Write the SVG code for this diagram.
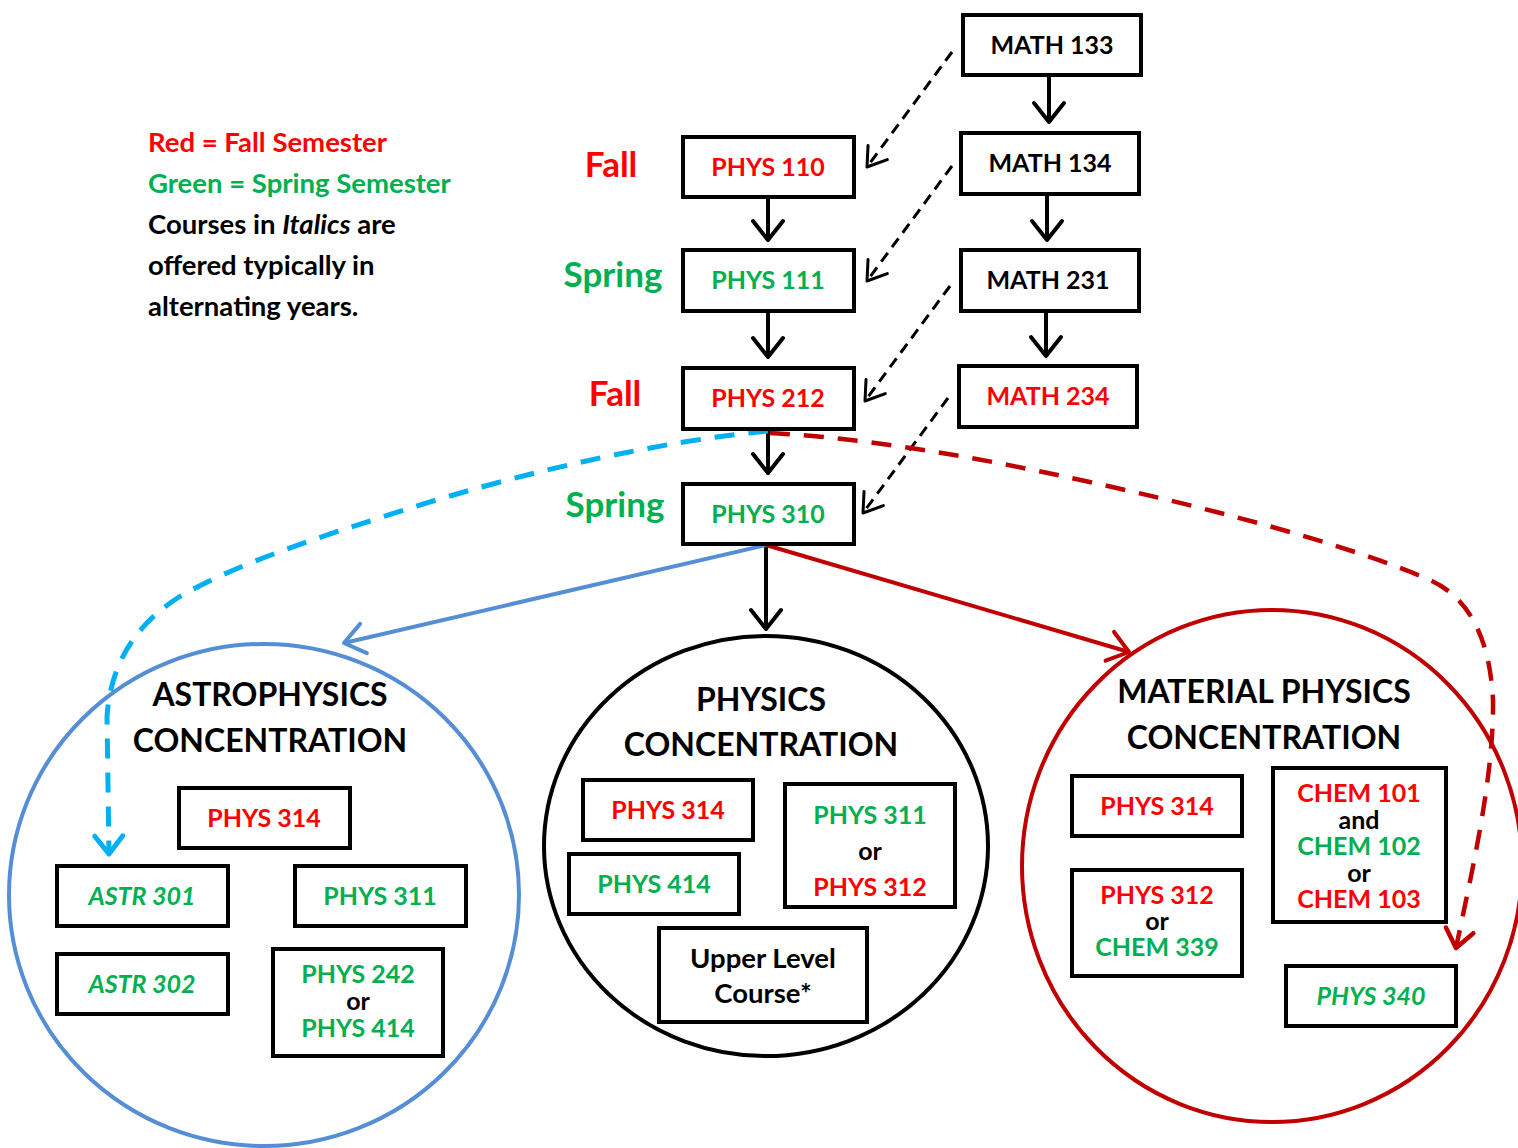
<svg xmlns="http://www.w3.org/2000/svg" width="1518" height="1148" viewBox="0 0 1518 1148">
<style>
text{font-family:Lato,"Liberation Sans",sans-serif;font-weight:bold;text-anchor:middle}
.box{fill:#fff;stroke:#000;stroke-width:4}
.t{font-size:25px}
.u{font-size:27.5px}
.big{font-size:32px}
.sem{font-size:35px}
.leg{font-size:27.5px;text-anchor:start}
.r{fill:#ff0000}
.g{fill:#00b050}
.k{fill:#000}
.i{font-style:italic}
.solid{fill:none;stroke-width:4}
.dk{fill:none;stroke:#000;stroke-width:3;stroke-dasharray:11 7}
</style>
<defs>
<marker id="ak" markerUnits="userSpaceOnUse" viewBox="-24 -18 28 36" refX="0" refY="0" markerWidth="28" markerHeight="36" orient="auto" overflow="visible"><path d="M-19,-15 L0,0 L-19,15" fill="none" stroke="#000" stroke-width="4" stroke-linecap="round" stroke-linejoin="round" stroke-dasharray="none"/></marker>
<marker id="akd" markerUnits="userSpaceOnUse" viewBox="-24 -18 28 36" refX="0" refY="0" markerWidth="28" markerHeight="36" orient="auto" overflow="visible"><path d="M-18,-12 L0,0 L-18,12" fill="none" stroke="#000" stroke-width="3" stroke-linecap="round" stroke-linejoin="round" stroke-dasharray="none"/></marker>
<marker id="ab" markerUnits="userSpaceOnUse" viewBox="-24 -18 28 36" refX="0" refY="0" markerWidth="28" markerHeight="36" orient="auto" overflow="visible"><path d="M-20,-15 L0,0 L-20,15" fill="none" stroke="#558ed5" stroke-width="4" stroke-linecap="round" stroke-linejoin="round"/></marker>
<marker id="ar" markerUnits="userSpaceOnUse" viewBox="-24 -18 28 36" refX="0" refY="0" markerWidth="28" markerHeight="36" orient="auto" overflow="visible"><path d="M-20,-15 L0,0 L-20,15" fill="none" stroke="#c00000" stroke-width="4" stroke-linecap="round" stroke-linejoin="round"/></marker>
<marker id="ac" markerUnits="userSpaceOnUse" viewBox="-24 -18 28 36" refX="0" refY="0" markerWidth="28" markerHeight="36" orient="auto" overflow="visible"><path d="M-18,-14 L0,0 L-18,14" fill="none" stroke="#00b0f0" stroke-width="5" stroke-linecap="round" stroke-linejoin="round" stroke-dasharray="none"/></marker>
<marker id="ard" markerUnits="userSpaceOnUse" viewBox="-24 -18 28 36" refX="0" refY="0" markerWidth="28" markerHeight="36" orient="auto" overflow="visible"><path d="M-18,-14 L0,0 L-18,14" fill="none" stroke="#c00000" stroke-width="4.5" stroke-linecap="round" stroke-linejoin="round" stroke-dasharray="none"/></marker>
</defs>
<rect width="1518" height="1148" fill="#fff"/>

<g id="legend">
<text class="leg r" x="148" y="152">Red = Fall Semester</text>
<text class="leg g" x="148" y="193">Green = Spring Semester</text>
<text class="leg k" x="148" y="234">Courses in <tspan class="i">Italics</tspan> are</text>
<text class="leg k" x="148" y="275">offered typically in</text>
<text class="leg k" x="148" y="316">alternating years.</text>
</g>

<g id="semesters">
<text class="sem r" x="611" y="177">Fall</text>
<text class="sem g" x="613" y="287">Spring</text>
<text class="sem r" x="615" y="406">Fall</text>
<text class="sem g" x="615" y="517">Spring</text>
</g>

<g id="circles">
<ellipse id="astro-circle" cx="264" cy="895" rx="255" ry="251" fill="none" stroke="#558ed5" stroke-width="4"/>
<ellipse id="physics-circle" cx="766" cy="846" rx="222" ry="210" fill="none" stroke="#000" stroke-width="4"/>
<ellipse id="material-circle" cx="1272" cy="866" rx="250" ry="256" fill="none" stroke="#c00000" stroke-width="4"/>
</g>

<g id="connectors">
<line x1="768" y1="198" x2="768" y2="240" class="solid" stroke="#000" marker-end="url(#ak)"/>
<line x1="768" y1="311" x2="768" y2="357" class="solid" stroke="#000" marker-end="url(#ak)"/>
<line x1="768" y1="429" x2="768" y2="473" class="solid" stroke="#000" marker-end="url(#ak)"/>
<line x1="766" y1="545" x2="766" y2="629" class="solid" stroke="#000" marker-end="url(#ak)"/>
<line x1="1049" y1="76" x2="1049" y2="122" class="solid" stroke="#000" marker-end="url(#ak)"/>
<line x1="1047" y1="195" x2="1047" y2="240" class="solid" stroke="#000" marker-end="url(#ak)"/>
<line x1="1046" y1="311" x2="1046" y2="356" class="solid" stroke="#000" marker-end="url(#ak)"/>
<line x1="952" y1="52" x2="867" y2="167" class="dk" marker-end="url(#akd)"/>
<line x1="952" y1="166" x2="867" y2="281" class="dk" marker-end="url(#akd)"/>
<line x1="950" y1="286" x2="865" y2="401" class="dk" marker-end="url(#akd)"/>
<line x1="948" y1="398" x2="863" y2="513" class="dk" marker-end="url(#akd)"/>
<line x1="766" y1="545" x2="344" y2="643" class="solid" stroke="#558ed5" marker-end="url(#ab)"/>
<line x1="766" y1="545" x2="1129" y2="652" class="solid" stroke="#c00000" marker-end="url(#ar)"/>
<path d="M768,431 C660,441 520,473 404,510 C320,537 240,562 179,597 C135,625 110,665 107,717 L109,854" fill="none" stroke="#00b0f0" stroke-width="5" stroke-dasharray="20 14" marker-end="url(#ac)"/>
<path d="M770,433 C900,440 1040,470 1160,498 C1260,522 1360,550 1430,580 C1470,598 1490,640 1493,700 C1494,780 1470,880 1456,948" fill="none" stroke="#c00000" stroke-width="4.5" stroke-dasharray="20 14" marker-end="url(#ard)"/>
</g>

<g id="math133"><rect class="box" x="963" y="15" width="178" height="60"/><text class="t k" x="1052" y="54">MATH 133</text></g>
<g id="math134"><rect class="box" x="961" y="133" width="178" height="61"/><text class="t k" x="1050" y="172">MATH 134</text></g>
<g id="math231"><rect class="box" x="961" y="250" width="178" height="61"/><text class="t k" x="1048" y="289">MATH 231</text></g>
<g id="math234"><rect class="box" x="959" y="366" width="178" height="61"/><text class="t r" x="1048" y="405">MATH 234</text></g>

<g id="phys110"><rect class="box" x="683" y="137" width="171" height="60"/><text class="t r" x="768" y="176">PHYS 110</text></g>
<g id="phys111"><rect class="box" x="683" y="250" width="171" height="61"/><text class="t g" x="768" y="289">PHYS 111</text></g>
<g id="phys212"><rect class="box" x="683" y="368" width="171" height="61"/><text class="t r" x="768" y="407">PHYS 212</text></g>
<g id="phys310"><rect class="box" x="683" y="484" width="171" height="60"/><text class="t g" x="768" y="523">PHYS 310</text></g>

<g id="astro-title"><text class="big k" x="270" y="706">ASTROPHYSICS</text><text class="big k" x="270" y="752">CONCENTRATION</text></g>
<g id="astro-phys314"><rect class="box" x="179" y="788" width="171" height="60"/><text class="t r" x="264" y="827">PHYS 314</text></g>
<g id="astr301"><rect class="box" x="57" y="866" width="171" height="60"/><text class="t g i" x="142" y="905">ASTR 301</text></g>
<g id="astro-phys311"><rect class="box" x="295" y="866" width="171" height="60"/><text class="t g" x="380" y="905">PHYS 311</text></g>
<g id="astr302"><rect class="box" x="57" y="954" width="171" height="60"/><text class="t g i" x="142" y="993">ASTR 302</text></g>
<g id="astro-phys242-414"><rect class="box" x="273" y="949" width="170" height="107"/><text class="t g" x="358" y="983">PHYS 242</text><text class="t k" x="358" y="1010">or</text><text class="t g" x="358" y="1037">PHYS 414</text></g>

<g id="physics-title"><text class="big k" x="761" y="711">PHYSICS</text><text class="big k" x="761" y="756">CONCENTRATION</text></g>
<g id="physics-phys314"><rect class="box" x="583" y="780" width="170" height="60"/><text class="t r" x="668" y="819">PHYS 314</text></g>
<g id="physics-phys414"><rect class="box" x="569" y="854" width="170" height="60"/><text class="t g" x="654" y="893">PHYS 414</text></g>
<g id="physics-phys311-312"><rect class="box" x="785" y="784" width="170" height="123"/><text class="t g" x="870" y="824">PHYS 311</text><text class="t k" x="870" y="860">or</text><text class="t r" x="870" y="896">PHYS 312</text></g>
<g id="upper-level"><rect class="box" x="659" y="928" width="208" height="94"/><text class="u k" x="763" y="968">Upper Level</text><text class="u k" x="763" y="1003">Course*</text></g>

<g id="material-title"><text class="big k" x="1264" y="703">MATERIAL PHYSICS</text><text class="big k" x="1264" y="749">CONCENTRATION</text></g>
<g id="material-phys314"><rect class="box" x="1072" y="776" width="170" height="60"/><text class="t r" x="1157" y="815">PHYS 314</text></g>
<g id="material-phys312-chem339"><rect class="box" x="1072" y="870" width="170" height="106"/><text class="t r" x="1157" y="904">PHYS 312</text><text class="t k" x="1157" y="930">or</text><text class="t g" x="1157" y="956">CHEM 339</text></g>
<g id="chem"><rect class="box" x="1273" y="768" width="173" height="154"/><text class="t r" x="1359" y="802">CHEM 101</text><text class="t k" x="1359" y="829">and</text><text class="t g" x="1359" y="855">CHEM 102</text><text class="t k" x="1359" y="882">or</text><text class="t r" x="1359" y="908">CHEM 103</text></g>
<g id="phys340"><rect class="box" x="1286" y="966" width="170" height="60"/><text class="t g i" x="1371" y="1005">PHYS 340</text></g>
</svg>
